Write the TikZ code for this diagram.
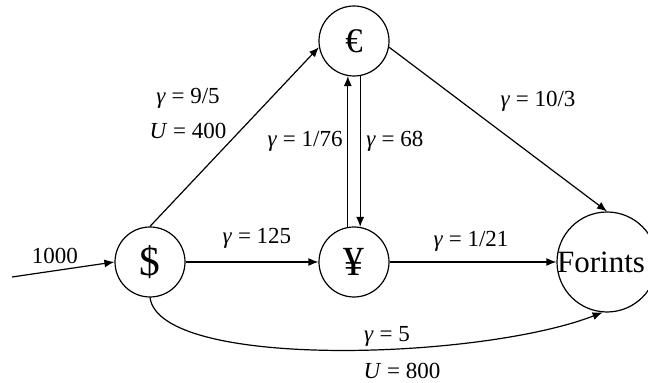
\documentclass[tikz,border=0pt]{standalone}
\usepackage{fontspec}
\setmainfont{Liberation Serif}
\usepackage{tikz}
\usetikzlibrary{positioning,arrows.meta}

\newcommand{\ratesym}{\textit{γ}}
\newcommand{\capsym}{\textit{U}}

\begin{document}
\begin{tikzpicture}[x=0.5pt, y=-0.5pt,
        currency/.style={circle, draw, line width=0.6pt, inner sep=0pt, minimum size=35pt, font=\huge},
        flow/.style={-{Latex[length=5pt,width=4pt]}, line width=0.6pt},
        rate/.style={inner sep=0pt, font=\fontsize{11.5}{14}\selectfont}]
    \useasboundingbox (0,0) rectangle (648,383);
    \clip (0,0) rectangle (648,383);

    \node[currency] (dollar) at (150,262) {\$};
    \node[currency, font=\LARGE] (euro) at (354,41) {€};
    \node[currency] (yen) at (354,262) {¥};
    \node[currency, minimum size=50pt] (forints) at (607,262) {};
    \node[inner sep=0pt, font=\fontsize{15.5}{18}\selectfont] (forints-name) at (601,262) {Forints};
    \coordinate (src) at (12,277);

    \draw[flow] (src) -- (dollar.west);
    \draw[flow] (dollar.north) -- (euro.190);
    \draw[flow] (euro.-10) -- (forints.north);
    \draw[flow] (yen.100) -- (euro.260);
    \draw[flow] (euro.280) -- (yen.80);
    \draw[flow] (dollar.east) -- (yen.west);
    \draw[flow] (yen.east) -- (forints.west);
    \draw[flow] (dollar.south) .. controls (160,370) and (480,360) .. (forints.265);

    \node[rate] (l-src) at (55,256) {1000};
    \node[rate] (l-de-g) at (188,98) {\ratesym{} = 9/5};
    \node[rate] (l-de-u) at (188,131) {\capsym{} = 400};
    \node[rate, anchor=east] (l-ye) at (343,141) {\ratesym{} = 1/76};
    \node[rate, anchor=west] (l-ey) at (366,141) {\ratesym{} = 68};
    \node[rate] (l-ef) at (538,101) {\ratesym{} = 10/3};
    \node[rate] (l-dy) at (257,238) {\ratesym{} = 125};
    \node[rate] (l-yf) at (471,241) {\ratesym{} = 1/21};
    \node[rate] (l-df-g) at (387,336) {\ratesym{} = 5};
    \node[rate] (l-df-u) at (402,371) {\capsym{} = 800};
\end{tikzpicture}
\end{document}
